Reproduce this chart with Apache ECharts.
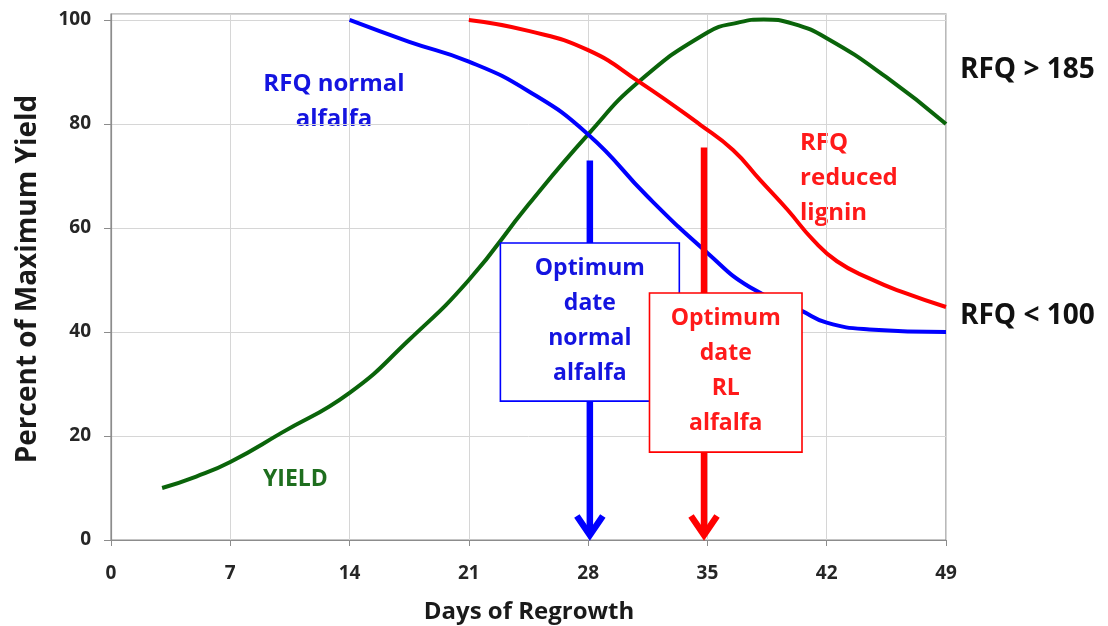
<!DOCTYPE html>
<html>
<head>
<meta charset="utf-8">
<script src="https://cdn.jsdelivr.net/npm/echarts@6/dist/echarts.min.js"></script>
<style>
html,body{margin:0;padding:0;background:#fff;}
#c{width:1108px;height:626px;}
</style>
</head>
<body>
<div id="c"></div>
<script>
// ---- data ----
const xTicks = [0, 7, 14, 21, 28, 35, 42, 49];
const yTicks = [0, 20, 40, 60, 80, 100];

const yieldDays   = [3, 5, 7, 10, 14, 17.5, 21, 24.5, 28, 31, 35, 36.8, 38.3, 40, 42, 45.5, 49];
const yieldValues = [10, 12.2, 15, 20.6, 28.3, 38.5, 50, 64.5, 78, 88.2, 97.6, 99.5, 100.1, 99.3, 96.5, 89, 80];

const normalDays   = [14, 17.5, 21, 24.5, 28, 31.5, 35, 37.5, 40.45, 42, 44.5, 49];
const normalValues = [100, 95.8, 92, 86.3, 78, 66, 55.2, 48.6, 44.2, 41.8, 40.5, 40];

const rlDays   = [21, 24.5, 28, 31, 34.6, 36.5, 38.1, 39.7, 41.2, 42.6, 44.5, 46.5, 49];
const rlValues = [100, 97.9, 94.2, 88.1, 79.8, 75, 69.2, 63.5, 57.7, 53.6, 50.3, 47.6, 44.8];

const arrowDays = [28.1, 34.8];
const arrowTops = [73, 75.5];
const boxTexts = ['Optimum\ndate\nnormal\nalfalfa', 'Optimum\ndate\nRL\nalfalfa'];

// ---- styles / layout ----
const BLUE = '#0000ff', RED = '#ff0000', GREEN = '#0a640a';
const BLUE_T = '#1414e0', RED_T = '#ff1a1a', GREEN_T = '#1e6e1e';
const FONT = '"Open Sans", "Noto Sans", sans-serif';
const boxRects = [[22.85, 57.1, 33.35, 26.7], [31.6, 47.5, 40.55, 16.9]];
const boxColors = [BLUE, RED];
const boxTextColors = [BLUE_T, RED_T];

const zip = (a, b) => a.map((v, i) => [v, b[i]]);

const chart = echarts.init(document.getElementById('c'), null, {renderer: 'canvas'});

const lineSeries = (name, d, v, color) => ({
  name, type: 'line', data: zip(d, v), smooth: 0.5,
  showSymbol: false, symbol: 'none', z: 2,
  lineStyle: {color, width: 4}, emphasis: {disabled: true}, silent: true
});

chart.setOption({
  backgroundColor: '#ffffff',
  animation: false,
  grid: {left: 111, right: 162, top: 14, bottom: 86, show: true, borderColor: '#8c8c8c', borderWidth: 1.2, backgroundColor: 'transparent'},
  xAxis: {
    type: 'value', min: 0, max: 49, interval: 7,
    axisLine: {show: true, lineStyle: {color: '#8c8c8c', width: 1.2}},
    axisTick: {show: true, inside: false, length: 6, lineStyle: {color: '#8c8c8c'}},
    axisLabel: {margin: 24, color: '#262626', fontFamily: FONT, fontWeight: 'bold', fontSize: 19,
      formatter: v => xTicks.includes(v) ? String(v) : ''},
    splitLine: {show: true, lineStyle: {color: '#d6d6d6', width: 1}}
  },
  yAxis: {
    type: 'value', min: 0, max: 101.15, interval: 20,
    axisLine: {show: true, lineStyle: {color: '#8c8c8c', width: 1.2}},
    axisTick: {show: true, inside: false, length: 7, lineStyle: {color: '#8c8c8c'}},
    axisLabel: {margin: 20, showMaxLabel: false, color: '#262626', fontFamily: FONT, fontWeight: 'bold', fontSize: 19,
      formatter: v => yTicks.includes(v) ? String(v) : ''},
    splitLine: {show: true, lineStyle: {color: '#d6d6d6', width: 1}}
  },
  series: [
    lineSeries('YIELD', yieldDays, yieldValues, GREEN),
    lineSeries('RFQ normal alfalfa', normalDays, normalValues, BLUE),
    lineSeries('RFQ reduced lignin', rlDays, rlValues, RED),
    {
      type: 'custom', z: 3, silent: true,
      data: arrowDays.map((d, i) => [d, arrowTops[i], i]),
      renderItem: (params, api) => {
        const top = api.coord([api.value(0), api.value(1)]);
        const bot = api.coord([api.value(0), 0]);
        const c = boxColors[api.value(2)];
        const x = top[0];
        return {type: 'group', children: [
          {type: 'line', shape: {x1: x, y1: top[1], x2: x, y2: bot[1] - 6}, style: {stroke: c, lineWidth: 6.5}},
          {type: 'polyline', shape: {points: [[x - 13, bot[1] - 24], [x, bot[1] - 5], [x + 13, bot[1] - 24]]},
            style: {stroke: c, lineWidth: 6.5, fill: null, lineJoin: 'miter'}}
        ]};
      }
    },
    {
      type: 'custom', z: 4, silent: true,
      data: boxRects.map((r, i) => [r[0], r[1], r[2], r[3], i]),
      renderItem: (params, api) => {
        const p1 = api.coord([api.value(0), api.value(1)]);
        const p2 = api.coord([api.value(2), api.value(3)]);
        const i = api.value(4);
        return {type: 'group', children: [
          {type: 'rect', shape: {x: p1[0], y: p1[1], width: p2[0] - p1[0], height: p2[1] - p1[1]},
            style: {fill: '#ffffff', stroke: boxColors[i], lineWidth: 1.6}},
          {type: 'text', style: {text: boxTexts[i], x: (p1[0] + p2[0]) / 2, y: p1[1] + 7.5,
            align: 'center', verticalAlign: 'top', lineHeight: 35,
            font: 'bold 23px ' + FONT, fill: boxTextColors[i]}}
        ]};
      }
    }
  ],
  graphic: [
    {type: 'text', x: 334, y: 102, style: {text: 'RFQ normal\nalfalfa', align: 'center', verticalAlign: 'middle', lineHeight: 35, font: 'bold 24px ' + FONT, fill: BLUE_T}},
    {type: 'text', x: 800, y: 178, style: {text: 'RFQ\nreduced\nlignin', align: 'left', verticalAlign: 'middle', lineHeight: 35, font: 'bold 24px ' + FONT, fill: RED_T}},
    {type: 'text', x: 263, y: 479, style: {text: 'YIELD', align: 'left', verticalAlign: 'middle', font: 'bold 23px ' + FONT, fill: GREEN_T}},
    {type: 'text', x: 960, y: 70, style: {text: 'RFQ > 185', align: 'left', verticalAlign: 'middle', font: 'bold 28px ' + FONT, fill: '#111'}},
    {type: 'text', x: 960, y: 316, style: {text: 'RFQ < 100', align: 'left', verticalAlign: 'middle', font: 'bold 28px ' + FONT, fill: '#111'}},
    {type: 'text', x: 529, y: 612, style: {text: 'Days of Regrowth', align: 'center', verticalAlign: 'middle', font: 'bold 24px ' + FONT, fill: '#1a1a1a'}},
    {type: 'text', x: 28, y: 279, rotation: Math.PI / 2, style: {text: 'Percent of Maximum Yield', align: 'center', verticalAlign: 'middle', font: 'bold 28px ' + FONT, fill: '#1a1a1a'}}
  ]
});
</script>
</body>
</html>
